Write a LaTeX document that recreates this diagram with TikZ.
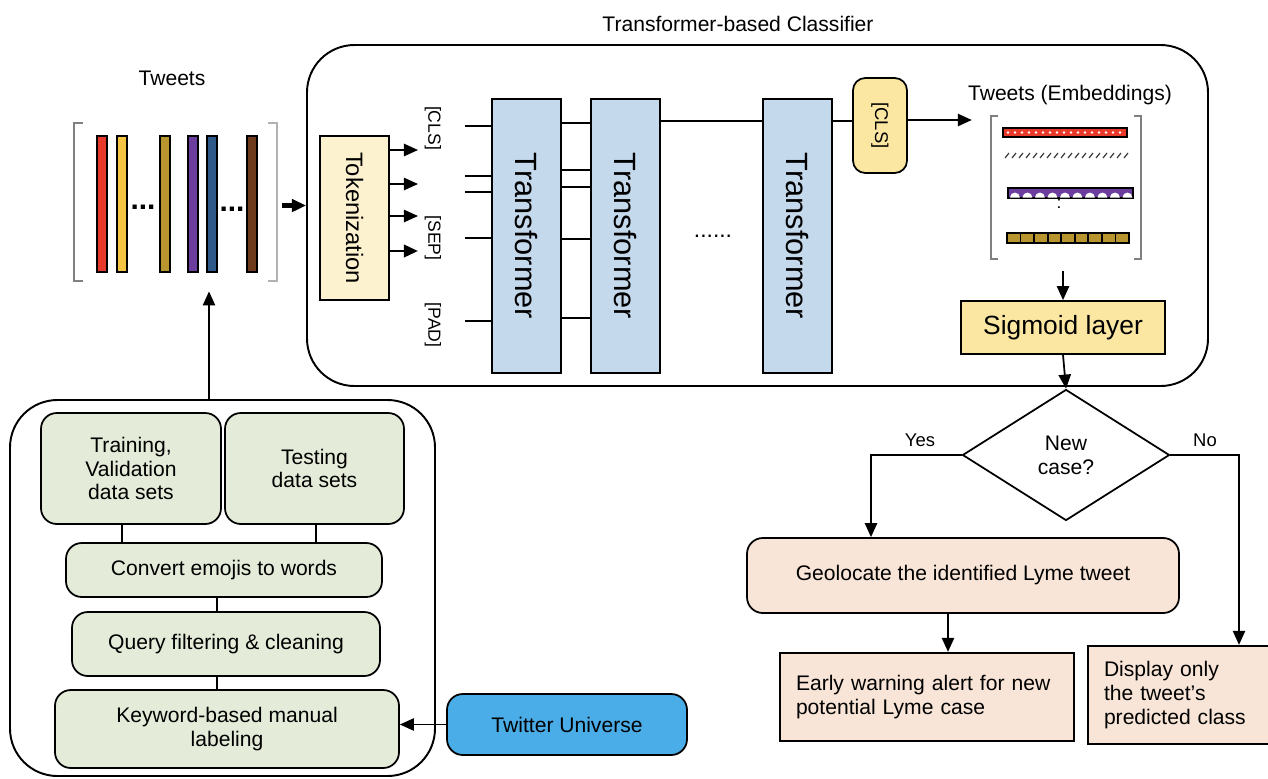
\documentclass[tikz,border=0pt]{standalone}
\usepackage{fontspec}
\setmainfont{Liberation Sans}
\usetikzlibrary{arrows.meta,shapes.geometric}

\newcommand{\upx}{0.02cm}
\newcommand{\fs}[1]{\fontsize{#1}{#1}\selectfont}

\definecolor{tokcream}{HTML}{FDF2D0}
\definecolor{tfblue}{HTML}{C5D9ED}
\definecolor{clsyellow}{HTML}{FBE6A2}
\definecolor{prepgreen}{HTML}{E4ECD9}
\definecolor{outpeach}{HTML}{F8E5D7}
\definecolor{twblue}{HTML}{4AADE8}
\definecolor{tred}{HTML}{E8392B}
\definecolor{tyellow}{HTML}{F6C443}
\definecolor{tgold}{HTML}{B8952F}
\definecolor{tpurple}{HTML}{6A3D9E}
\definecolor{tblue}{HTML}{2F5988}
\definecolor{tbrown}{HTML}{6E3B1C}

\tikzset{
  every node/.style={font=\fontsize{12}{13.6}\selectfont},
  wh/.style 2 args={minimum width=#1*\upx, minimum height=#2*\upx},
  panel/.style={draw, line width=1.1pt, rounded corners=27pt},
  block/.style={draw, line width=1pt, inner sep=0pt, align=center},
  prep/.style={block, fill=prepgreen, rounded corners=9pt},
  tfblock/.style={block, fill=tfblue},
  outbox/.style={block, fill=outpeach, line width=1.3pt, align=left, inner xsep=16*\upx},
  decision/.style={diamond, draw, line width=1pt, inner sep=0pt, aspect=1.58, align=center},
  vlabel/.style={rotate=-90, font=\fontsize{10}{12}\selectfont},
  bracket/.style={draw=gray, line width=0.9pt},
  bar/.style={draw=black, line width=1pt},
}

\begin{document}
\begin{tikzpicture}[x=\upx, y=-\upx, line width=1pt, >={Triangle[length=8pt,width=7pt]}]
\useasboundingbox (0,0) rectangle (1268,778);

% classifier panel
\node[panel, wh={901}{341}] (clf) at (757.5,215.5) {};
\node (clftitle) at (738,24) {Transformer-based Classifier};

% raw tweets as columns
\node[wh={201}{156}, inner sep=0pt] (tweets) at (175.5,202) {};
\node (tweetstitle) at (172,78) {Tweets};
\draw[bracket] ([xshift=5pt]tweets.north west) -- (tweets.north west)
  -- (tweets.south west) -- ([xshift=5pt]tweets.south west);
\draw[bracket, draw=gray!60] ([xshift=-5pt]tweets.north east) -- (tweets.north east)
  -- (tweets.south east) -- ([xshift=-5pt]tweets.south east);
\foreach \x/\c in {102/tred,122/tyellow,165/tgold,193/tpurple,212/tblue,252/tbrown}
  \draw[bar, fill=\c] (\x-5,136) rectangle (\x+5,272);
\node[font=\bfseries\fs{17}] (dotsa) at (143,207) {...};
\node[font=\bfseries\fs{17}] (dotsb) at (232,209) {...};
\draw[->, line width=2.4pt] ([xshift=3pt,yshift=-2pt]tweets.east) -- ([yshift=-2pt]tweets.east -| clf.west);

% tokenizer
\node[block, fill=tokcream, wh={69}{164}] (tok) at (354.5,218) {};
\node[rotate=-90, font=\fs{13.5}] (toktxt) at (tok) {Tokenization};
\coordinate (tokout) at (418,0);
\foreach \y in {150,184,216}
  \draw[->] (tok.east |- 0,\y) -- (tokout |- 0,\y);
\draw[->, line width=1.6pt] (tok.east |- 0,251) -- (tokout |- 0,251);
\node[vlabel] (lcls) at (433,128) {[CLS]};
\node[vlabel] (lsep) at (433,238) {[SEP]};
\node[vlabel] (lpad) at (433,325) {[PAD]};

% transformer stack
\node[tfblock, wh={69}{274}] (t1) at (526.5,236) {};
\node[tfblock, wh={69}{274}] (t2) at (625.5,236) {};
\node[tfblock, wh={69}{274}] (t3) at (797.5,236) {};
\foreach \t in {t1,t2,t3}
  \node[rotate=-90, font=\fs{17.5}] (\t txt) at (\t) {Transformer};
\foreach \y in {126,176,192,238,321}
  \draw (t1.west |- 0,\y) -- ++(-26,0);
\foreach \y in {123,170,187,239,318}
  \draw (t1.east |- 0,\y) -- (t2.west |- 0,\y);
\draw (t2.east |- 0,121) -- (t3.west |- 0,121);
\node[font=\fs{13}] (tdots) at (713,236) {......};

% pooled token
\node[block, fill=clsyellow, rounded corners=7pt, wh={54}{95}] (cls) at (880,125.5) {};
\node[rotate=-90, font=\fs{10.5}] (clstxt) at (cls) {[CLS]};
\draw (t3.east |- 0,121) -- (cls.west |- 0,121);

% embeddings
\node[wh={148}{141}, inner sep=0pt] (emb) at (1066,187.5) {};
\node (embtitle) at (1070,95) {Tweets (Embeddings)};
\draw[->, shorten >=11pt] (cls.east |- 0,120) -- (emb.west |- 0,120);
\draw[bracket] ([xshift=4pt]emb.north west) -- (emb.north west)
  -- (emb.south west) -- ([xshift=4pt]emb.south west);
\draw[bracket] ([xshift=-4pt]emb.north east) -- (emb.north east)
  -- (emb.south east) -- ([xshift=-4pt]emb.south east);
\draw[bar, fill=tred] (1003,128) rectangle (1127,137);
\foreach \x in {1008,1015,...,1124}
  \fill[white] (\x,132.5) circle (0.8pt);
\foreach \x in {1005,1012,...,1124}
  \draw[line width=0.7pt, black!75] (\x,158) -- ++(4,-5);
\draw[bar, fill=tpurple] (1008,188) rectangle (1133,198);
\foreach \x in {1015,1027.5,...,1131}
  \fill[white] (\x-5,197.5) arc[start angle=180, end angle=0, radius=2.8pt];
\node[font=\fs{10}] (embdots) at (1059,204) {:};
\draw[bar, fill=tgold] (1007,233) rectangle (1129,243);
\foreach \i in {1,...,8}
  \draw (1007+\i*13.56,233) -- ++(0,10);

% output layer
\node[block, fill=clsyellow, wh={204}{53}, font=\fs{15}] (sig) at (1063,327.5) {Sigmoid layer};
\coordinate (embfoot) at ([yshift=-7pt]emb.south);
\draw[->] (sig.north |- embfoot) -- (sig.north);

% decision
\node[decision, wh={207}{131}] (dec) at (1066,455) {New\\case?};
\draw[->] (sig.south) -- (dec.north);
\node[font=\fs{10.5}] (yes) at (920,440) {Yes};
\node[font=\fs{10.5}] (no) at (1205,440) {No};

\node[block, fill=outpeach, rounded corners=9pt, wh={432}{75}] (geo) at (963,575.5) {Geolocate the identified Lyme tweet};
\node[outbox, wh={294}{88}, text width=262*\upx] (alert) at (927,697) {Early warning alert for new\\potential Lyme case};
\node[outbox, wh={182}{98}, text width=150*\upx] (disp) at (1179,695) {Display only\\the tweet's\\predicted class};

\coordinate (yesdrop) at (871,0);
\coordinate (nodrop) at (1239,0);
\coordinate (geodrop) at (948,0);
\draw[->] (dec.west) -| (yesdrop |- geo.north);
\draw[->] (dec.east) -| (nodrop |- disp.north);
\draw[->] (geodrop |- geo.south) -- (geodrop |- alert.north);

% data preparation panel
\node[panel, wh={425}{376}] (prepanel) at (222.5,588) {};
\node[prep, wh={180}{111}] (train) at (131,468.5) {Training,\\Validation\\data sets};
\node[prep, wh={179}{111}] (test) at (314.5,468.5) {Testing\\data sets};
\node[prep, wh={316}{54}] (emoji) at (224,570) {Convert emojis to words};
\node[prep, wh={308}{64}] (query) at (226,644) {Query filtering \& cleaning};
\node[prep, wh={344}{78}] (keyword) at (227,729) {Keyword-based manual\\labeling};
\node[block, fill=twblue, rounded corners=9pt, wh={240}{61}] (twitter) at (567,724.5) {Twitter Universe};

\coordinate (trainstem) at (122,0);
\coordinate (teststem) at (316,0);
\coordinate (chainstem) at (217,0);
\draw (trainstem |- train.south) -- (trainstem |- emoji.north);
\draw (teststem |- test.south) -- (teststem |- emoji.north);
\draw (chainstem |- emoji.south) -- (chainstem |- query.north);
\draw (chainstem |- query.south) -- (chainstem |- keyword.north);
\draw[->] (twitter.west) -- (twitter.west -| keyword.east);

\coordinate (feed) at (209,0);
\draw[->, shorten >=6pt] (feed |- prepanel.north) -- (feed |- tweets.south);
\end{tikzpicture}
\end{document}
